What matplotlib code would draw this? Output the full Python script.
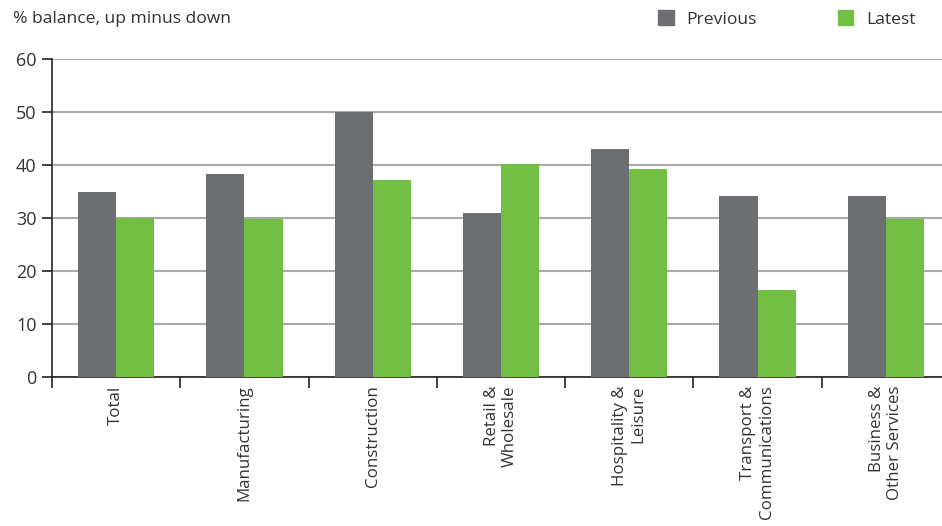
import numpy as np
import matplotlib.pyplot as plt
from matplotlib.patches import Patch

plt.rcParams['font.family'] = ['Open Sans', 'DejaVu Sans']

categories = ["Total", "Manufacturing", "Construction", "Retail &\nWholesale",
              "Hospitality &\nLeisure", "Transport &\nCommunications",
              "Business &\nOther Services"]
previous = [35, 38.3, 50, 30.9, 43, 34.2, 34.2]
latest = [30, 29.8, 37.2, 40.2, 39.2, 16.4, 29.8]

GREY = "#6d6e71"
GREEN = "#72bf44"
TEXT = "#333333"

W, H = 942, 526
fig = plt.figure(figsize=(W / 100, H / 100), dpi=100)
ax = fig.add_axes([52 / W, 149 / H, 898 / W, 318 / H])

x = np.arange(len(categories))
bw = 0.297
ax.bar(x - bw / 2, previous, bw, color=GREY, zorder=3)
ax.bar(x + bw / 2, latest, bw, color=GREEN, zorder=3)

ax.set_xlim(-0.5, len(categories) - 0.5)
ax.set_ylim(0, 60)
ax.set_yticks(range(0, 61, 10))
ax.yaxis.grid(True, color="#aaaaab", linewidth=1.5, zorder=0)
ax.set_axisbelow(True)

for s in ["top", "right"]:
    ax.spines[s].set_visible(False)
ax.spines["left"].set_color("#222222")
ax.spines["bottom"].set_color("#222222")
ax.spines["left"].set_linewidth(1.2)
ax.spines["bottom"].set_linewidth(1.2)

ax.tick_params(axis="y", length=7, width=1.2, color="#222222",
               labelsize=13, labelcolor=TEXT, pad=4)

# category labels at group centres, tick marks at group boundaries
ax.set_xticks(x)
ax.set_xticklabels(categories, rotation=90, va="top", ha="center",
                   multialignment="right", fontsize=12.2, color=TEXT)
ax.tick_params(axis="x", which="major", length=0, pad=6)
ax.set_xticks(np.arange(-0.5, len(categories), 1), minor=True)
ax.tick_params(axis="x", which="minor", length=8, width=1.2, color="#222222")

fig.text(13 / W, 1 - 19 / H, "% balance, up minus down", fontsize=12.6,
         color=TEXT, va="center", ha="left")

handles = [Patch(color=GREY, label="Previous"), Patch(color=GREEN, label="Latest")]
fig.legend(handles=handles, loc="center left",
           bbox_to_anchor=(642 / W, 1 - 19 / H), ncol=2, frameon=False,
           fontsize=12.6, handlelength=0.9, handleheight=0.9,
           handletextpad=0.75, columnspacing=4.6, labelcolor=TEXT)

fig.savefig("out.png", dpi=100)
